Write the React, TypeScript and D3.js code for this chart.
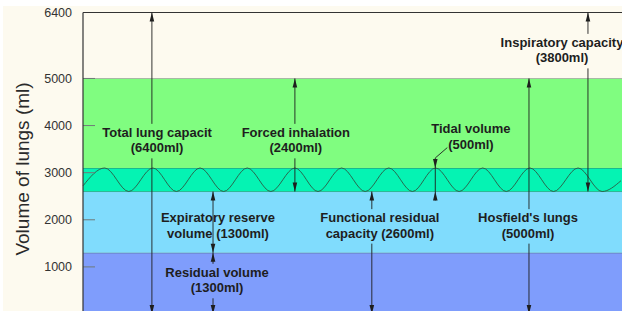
import { curveMonotoneX, line as d3Line, scaleLinear } from "d3";

// y axis
const tickValues = [1000, 2000, 3000, 4000, 5000, 6400];
const tickLabels = ["1000", "2000", "3000", "4000", "5000", "6400"];
const yTitle = "Volume of lungs (ml)";

// lung volume bands (ml)
const bandNames = ["residual", "expiratory", "tidal", "inspiratory", "reserve"];
const bandLow = [0, 1300, 2600, 3100, 5000];
const bandHigh = [1300, 2600, 3100, 5000, 6400];
const bandColors = ["#7f9dfc", "#80dcfd", "#05f3b3", "#80fd80", "#fdfaef"];

// breathing curve (time in breaths, volume in ml)
const breathTime = [
  0, 0.46, 0.97, 1.48, 1.98, 2.48, 2.98, 3.48, 3.98, 4.49, 4.98, 5.48, 5.98, 6.48, 6.98, 7.47,
  7.97, 8.47, 8.97, 9.47, 9.97, 10.49, 11.0, 11.4,
];
const breathVolume = [
  2720, 3100, 2600, 3100, 2600, 3100, 2600, 3100, 2600, 3100, 2600, 3100, 2600, 3100, 2600, 3100,
  2600, 3100, 2600, 3100, 2600, 3100, 2600, 2830,
];

// annotation labels
const labelLines = [
  ["Total lung capacit", "(6400ml)"],
  ["Forced inhalation", "(2400ml)"],
  ["Tidal volume", "(500ml)"],
  ["Inspiratory capacity", "(3800ml)"],
  ["Hosfield's lungs", "(5000ml)"],
  ["Expiratory reserve", "volume (1300ml)"],
  ["Functional residual", "capacity (2600ml)"],
  ["Residual volume", "(1300ml)"],
];
const labelTime = [1.57, 4.51, 8.22, 10.15, 9.43, 2.86, 6.29, 2.84];
const labelVolume = [3760, 3760, 3840, 5670, 1950, 1950, 1950, 790];

// dimension arrows: from/to in ml, label index that hides the line (-1 = none)
const arrowTime = [1.46, 4.49, 2.755, 2.755, 6.12, 9.45, 10.7];
const arrowFrom = [0, 2600, 1300, 0, 0, 0, 2600];
const arrowTo = [6400, 5000, 2600, 1300, 2600, 5000, 6400];
const arrowLabel = [0, 1, -1, 7, 6, 4, 3];

// tidal volume arrow (arrowheads from outside)
const tidalTime = 7.465;
const tidalFrom = 2600;
const tidalTo = 3100;
const tidalLabel = 2;

const WIDTH = 622;
const HEIGHT = 311;
const PLOT = { left: 83, right: 622, top: 12.5, bottom: 314 };
const FONT = "'Liberation Sans', Arial, Helvetica, sans-serif";
const LABEL_SIZE = 13;
const LINE_GAP = 15.5;
const HEAD_LEN = 9;
const HEAD_HALF = 2.3;
const INK = "#1e1e1e";

const x = scaleLinear().domain([0, 11.4]).range([PLOT.left, 621]);
const y = scaleLinear().domain([0, 6400]).range([PLOT.bottom, PLOT.top]);

const head = (px: number, tip: number, dir: "up" | "down") => {
  const base = dir === "up" ? tip + HEAD_LEN : tip - HEAD_LEN;
  return `${px},${tip} ${px - HEAD_HALF},${base} ${px + HEAD_HALF},${base}`;
};

export default function App() {
  const breath = breathTime.map((t, i) => ({ t, v: breathVolume[i] }));
  const wavePath =
    d3Line<{ t: number; v: number }>()
      .x((d) => x(d.t))
      .y((d) => y(d.v))
      .curve(curveMonotoneX)(breath) ?? "";

  const labelBox = (i: number) => {
    const base = y(labelVolume[i]);
    return { top: base - 11, bottom: base + LINE_GAP + 4 };
  };

  const tx = x(tidalTime);
  const tidalBase = y(labelVolume[tidalLabel]) + LINE_GAP;

  return (
    <svg
      width={WIDTH}
      height={HEIGHT}
      style={{ position: "fixed", left: 0, top: 0, display: "block" }}
      fontFamily={FONT}
    >
      <rect width={WIDTH} height={HEIGHT} fill="#ffffff" />
      <rect x={3} y={6} width={WIDTH - 3} height={HEIGHT - 6} fill="#fdfaef" />

      {/* bands */}
      {bandNames.map((name, i) => (
        <g key={name}>
          <rect
            x={PLOT.left}
            width={PLOT.right - PLOT.left}
            y={y(bandHigh[i])}
            height={y(bandLow[i]) - y(bandHigh[i])}
            fill={bandColors[i]}
          />
          {i < bandNames.length - 1 ? (
            <line
              x1={PLOT.left}
              x2={PLOT.right}
              y1={y(bandHigh[i])}
              y2={y(bandHigh[i])}
              stroke="#3f4f4a"
              strokeOpacity={0.75}
              strokeWidth={1}
            />
          ) : null}
        </g>
      ))}

      {/* breathing wave */}
      <path d={wavePath} fill="none" stroke="#2b5a44" strokeWidth={0.9} />

      {/* ticks */}
      {tickValues.map((v, i) => (
        <g key={v}>
          <line
            x1={PLOT.left}
            x2={PLOT.left + 12}
            y1={y(v)}
            y2={y(v)}
            stroke="#6f7a78"
            strokeWidth={1}
          />
          <text
            x={72}
            y={y(v)}
            dy="0.35em"
            textAnchor="end"
            fontSize={12.5}
            fill="#333"
          >
            {tickLabels[i]}
          </text>
        </g>
      ))}
      <text
        transform="translate(29,169) rotate(-90)"
        textAnchor="middle"
        fontSize={19}
        fill="#2a2a2a"
      >
        {yTitle}
      </text>

      {/* frame */}
      <line x1={PLOT.left} x2={PLOT.right} y1={PLOT.top} y2={PLOT.top} stroke="#333" strokeWidth={1.2} />
      <line x1={PLOT.left} x2={PLOT.left} y1={PLOT.top} y2={HEIGHT} stroke="#333" strokeWidth={1.2} />

      {/* dimension arrows */}
      {arrowTime.map((t, i) => {
        const px = x(t);
        const y1 = y(arrowTo[i]);
        const y2 = y(arrowFrom[i]);
        const segs: [number, number][] = [];
        if (arrowLabel[i] >= 0) {
          const box = labelBox(arrowLabel[i]);
          segs.push([y1, box.top - 2], [box.bottom + 2, y2]);
        } else {
          segs.push([y1, y2]);
        }
        return (
          <g key={`arrow-${i}`}>
            {segs.map(([a, b], j) => (
              <line key={j} x1={px} x2={px} y1={a} y2={b} stroke={INK} strokeWidth={0.9} />
            ))}
            <polygon points={head(px, y1, "up")} fill={INK} />
            <polygon points={head(px, y2, "down")} fill={INK} />
          </g>
        );
      })}

      {/* tidal volume */}
      <g>
        <line x1={tx} x2={tx} y1={y(tidalTo) - 10} y2={y(tidalFrom) + HEAD_LEN} stroke={INK} strokeWidth={0.9} />
        <line x1={tx} x2={tx + 12} y1={y(tidalTo) - 10} y2={tidalBase - 1} stroke={INK} strokeWidth={0.9} />
        <polygon points={head(tx, y(tidalTo), "down")} fill={INK} />
        <polygon points={head(tx, y(tidalFrom), "up")} fill={INK} />
      </g>

      {/* labels */}
      {labelLines.map((lines, i) => (
        <text
          key={`label-${i}`}
          x={x(labelTime[i])}
          y={y(labelVolume[i])}
          textAnchor="middle"
          fontSize={LABEL_SIZE}
          fontWeight="bold"
          fill={INK}
        >
          {lines.map((ln, j) => (
            <tspan key={j} x={x(labelTime[i])} dy={j === 0 ? 0 : LINE_GAP}>
              {ln}
            </tspan>
          ))}
        </text>
      ))}
    </svg>
  );
}
